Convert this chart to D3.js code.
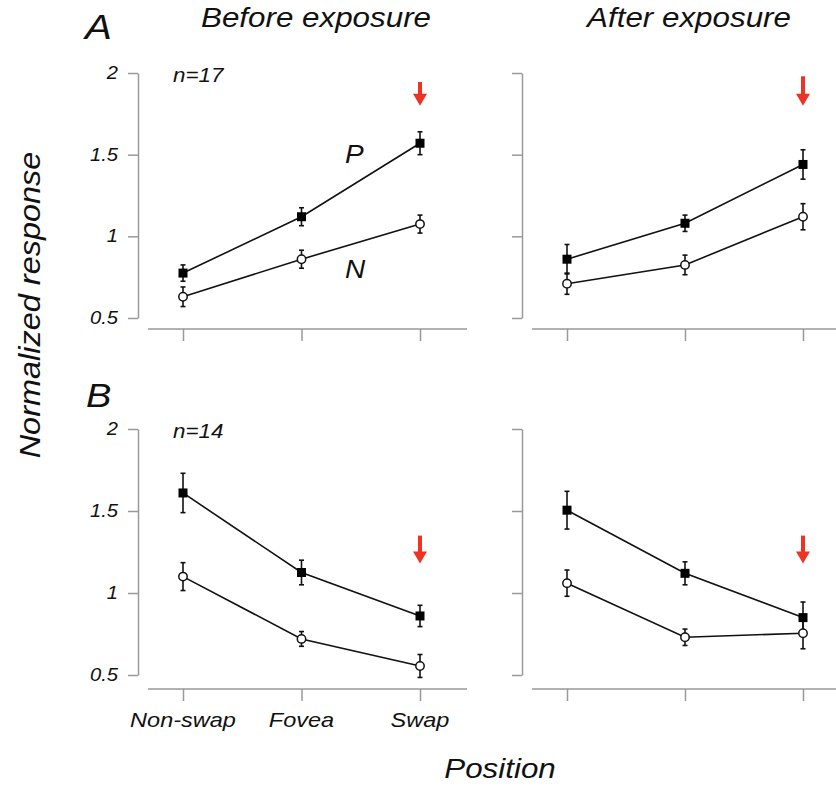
<!DOCTYPE html>
<html>
<head>
<meta charset="utf-8">
<script src="https://cdn.jsdelivr.net/npm/d3@7"></script>
<style>
  body { margin: 0; background: #fff; }
  text { font-family: "Liberation Sans", Arial, sans-serif; font-style: italic; fill: #111; }
</style>
</head>
<body>
<svg id="chart" width="836" height="788"></svg>
<script>
const positions = ["Non-swap", "Fovea", "Swap"];
const yTicks = [0.5, 1, 1.5, 2];
const yTickLabels = ["0.5", "1", "1.5", "2"];

// A: before / after exposure
const aBeforeP = [0.775, 1.12, 1.57];
const aBeforePErr = [0.05, 0.055, 0.07];
const aBeforeN = [0.63, 0.86, 1.075];
const aBeforeNErr = [0.06, 0.055, 0.055];
const aAfterP = [0.86, 1.08, 1.44];
const aAfterPErr = [0.09, 0.05, 0.09];
const aAfterN = [0.71, 0.825, 1.12];
const aAfterNErr = [0.065, 0.06, 0.08];

// B: before / after exposure
const bBeforeP = [1.61, 1.125, 0.86];
const bBeforePErr = [0.12, 0.075, 0.065];
const bBeforeN = [1.10, 0.72, 0.555];
const bBeforeNErr = [0.085, 0.045, 0.07];
const bAfterP = [1.505, 1.12, 0.85];
const bAfterPErr = [0.115, 0.07, 0.095];
const bAfterN = [1.06, 0.73, 0.755];
const bAfterNErr = [0.08, 0.05, 0.095];

// red arrows over the swap position (value of tail, value of tip)
const arrowTail = [1.945, 1.98, 1.35, 1.35];
const arrowTip = [1.80, 1.80, 1.18, 1.18];

const svg = d3.select("#chart");
const axisColor = "#999";
const sx = 1.12;   // the figure's lettering is a bit wide

function label(x, y, str, size, anchor, extra) {
  return svg.append("text")
    .attr("transform", `translate(${x},${y}) ${extra || ""} scale(${sx},1)`)
    .attr("text-anchor", anchor)
    .style("font-size", size + "px")
    .text(str);
}

const panels = [
  { P: aBeforeP, Pe: aBeforePErr, N: aBeforeN, Ne: aBeforeNErr, x: [183, 420], y: [318, 73], xAxisY: 329, left: true },
  { P: aAfterP, Pe: aAfterPErr, N: aAfterN, Ne: aAfterNErr, x: [567, 803], y: [318, 73], xAxisY: 329, left: false },
  { P: bBeforeP, Pe: bBeforePErr, N: bBeforeN, Ne: bBeforeNErr, x: [183, 420], y: [675, 429], xAxisY: 689, left: true },
  { P: bAfterP, Pe: bAfterPErr, N: bAfterN, Ne: bAfterNErr, x: [567, 803], y: [675, 429], xAxisY: 689, left: false },
];

panels.forEach((p, i) => {
  const x = d3.scalePoint().domain(positions).range(p.x).padding(0);
  const y = d3.scaleLinear().domain([0.5, 2]).range(p.y);
  const yAxisX = p.x[0] - 45;

  // y axis
  const ya = svg.append("g")
    .attr("transform", `translate(${yAxisX},0)`)
    .call(d3.axisLeft(y).tickValues(yTicks).tickSize(10).tickSizeOuter(0).tickFormat(""));
  ya.selectAll("path, line").attr("stroke", axisColor).attr("stroke-width", 1.5);

  if (p.left) {
    yTicks.forEach((t, k) => {
      label(yAxisX - 20, y(t) + 6, yTickLabels[k], 18, "end");
    });
  }

  // x axis (line drawn separately, it runs past the outer ticks)
  const xa = svg.append("g")
    .attr("transform", `translate(0,${p.xAxisY})`)
    .call(d3.axisBottom(x).tickSize(12).tickSizeOuter(0).tickFormat(""));
  xa.select(".domain").remove();
  xa.selectAll("line").attr("stroke", axisColor).attr("stroke-width", 1.5);
  svg.append("line")
    .attr("x1", p.x[0] - 35).attr("x2", p.x[1] + 47)
    .attr("y1", p.xAxisY).attr("y2", p.xAxisY)
    .attr("stroke", axisColor).attr("stroke-width", 1.5);

  const line = d3.line().x((d, k) => x(positions[k])).y(d => y(d));

  [p.N, p.P].forEach(vals => {
    svg.append("path")
      .attr("d", line(vals))
      .attr("fill", "none")
      .attr("stroke", "#111")
      .attr("stroke-width", 1.6);
  });

  // error bars
  [[p.P, p.Pe], [p.N, p.Ne]].forEach(([vals, errs]) => {
    vals.forEach((v, k) => {
      const cx = x(positions[k]);
      const g = svg.append("g").attr("stroke", "#111").attr("stroke-width", 1.6);
      g.append("line").attr("x1", cx).attr("x2", cx).attr("y1", y(v - errs[k])).attr("y2", y(v + errs[k]));
      g.append("line").attr("x1", cx - 2.5).attr("x2", cx + 2.5).attr("y1", y(v - errs[k])).attr("y2", y(v - errs[k]));
      g.append("line").attr("x1", cx - 2.5).attr("x2", cx + 2.5).attr("y1", y(v + errs[k])).attr("y2", y(v + errs[k]));
    });
  });

  // P: filled squares
  svg.selectAll(null).data(p.P).enter().append("rect")
    .attr("x", (d, k) => x(positions[k]) - 4.5)
    .attr("y", d => y(d) - 4.5)
    .attr("width", 9).attr("height", 9)
    .attr("fill", "#000");

  // N: open circles
  svg.selectAll(null).data(p.N).enter().append("circle")
    .attr("cx", (d, k) => x(positions[k]))
    .attr("cy", d => y(d))
    .attr("r", 4.2)
    .attr("fill", "#fff")
    .attr("stroke", "#111")
    .attr("stroke-width", 1.5);

  // red arrow at swap
  const ax = x("Swap");
  const yTail = y(arrowTail[i]), yTip = y(arrowTip[i]);
  svg.append("line")
    .attr("x1", ax).attr("x2", ax)
    .attr("y1", yTail).attr("y2", yTip - 9)
    .attr("stroke", "#ee3322").attr("stroke-width", 4);
  svg.append("path")
    .attr("d", `M${ax - 7},${yTip - 12}L${ax + 7},${yTip - 12}L${ax},${yTip}Z`)
    .attr("fill", "#ee3322");

  if (p.left) {
    label(yAxisX + 35, y(2) + 9, i === 0 ? "n=17" : "n=14", 20, "start");
  }
});

// panel letters and column titles
label(85, 39, "A", 36, "start");
label(86, 407, "B", 34, "start");
label(316, 27, "Before exposure", 28, "middle");
label(689, 27, "After exposure", 28, "middle");

// curve labels
label(345, 163, "P", 25, "start");
label(345, 278, "N", 25, "start");

// category labels
const xb = d3.scalePoint().domain(positions).range([183, 420]).padding(0);
positions.forEach(c => label(xb(c), 727, c, 21, "middle"));

// axis titles
label(500, 778, "Position", 28, "middle");
label(40, 305, "Normalized response", 29, "middle", "rotate(-90)");
</script>
</body>
</html>
